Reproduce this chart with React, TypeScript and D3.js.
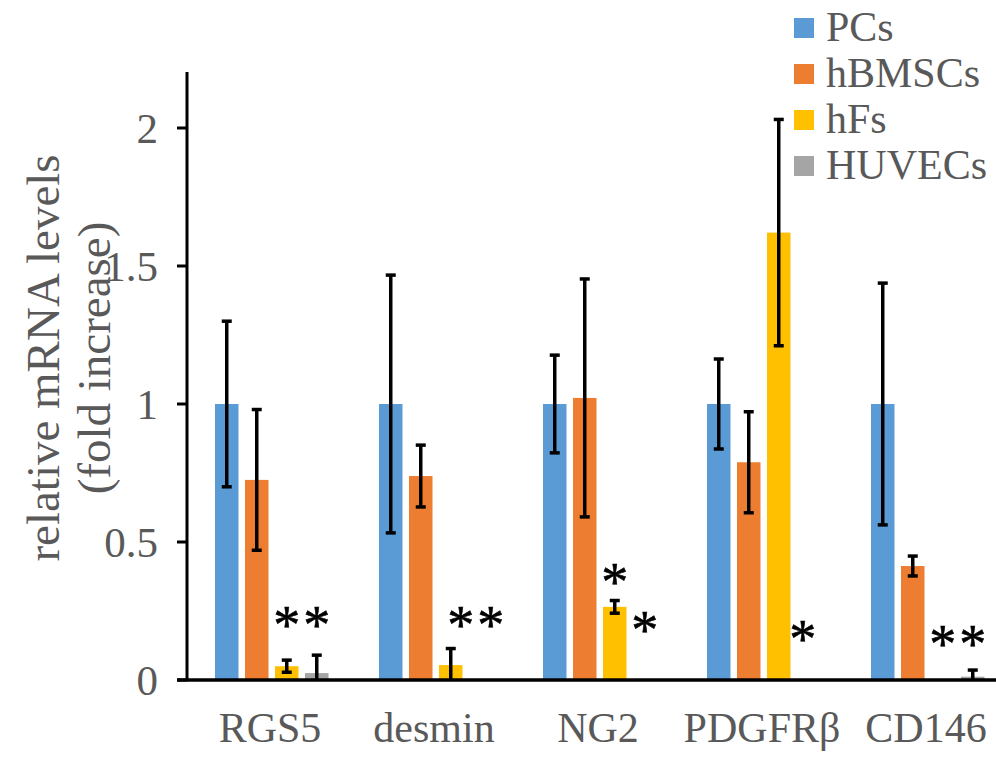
import React, { useEffect, useRef } from "react";
import * as d3 from "d3";

const categories = ["RGS5", "desmin", "NG2", "PDGFRβ", "CD146"];
const seriesNames = ["PCs", "hBMSCs", "hFs", "HUVECs"];
const seriesColors = ["#5B9BD5", "#ED7D31", "#FFC000", "#A5A5A5"];

const pcsValues = [1, 1, 1, 1, 1];
const pcsErrors = [0.3, 0.467, 0.177, 0.163, 0.438];
const hbmscValues = [0.725, 0.739, 1.022, 0.789, 0.413];
const hbmscErrors = [0.255, 0.112, 0.431, 0.183, 0.036];
const hfValues = [0.05, 0.054, 0.265, 1.621, 0];
const hfErrors = [0.022, 0.06, 0.023, 0.41, 0];
const huvecValues = [0.025, 0, 0, 0, 0.012];
const huvecErrors = [0.065, 0, 0, 0, 0.024];

const yTicks = [0, 0.5, 1, 1.5, 2];

// significance marks: category, series, height (data units), small x nudge
const stars = [
  { cat: "RGS5", series: "hFs", y: 0.225, dx: 0 },
  { cat: "RGS5", series: "HUVECs", y: 0.225, dx: 0 },
  { cat: "desmin", series: "hFs", y: 0.225, dx: 10 },
  { cat: "desmin", series: "HUVECs", y: 0.225, dx: 10 },
  { cat: "NG2", series: "hFs", y: 0.38, dx: 0 },
  { cat: "NG2", series: "HUVECs", y: 0.207, dx: 0 },
  { cat: "PDGFRβ", series: "HUVECs", y: 0.174, dx: -6 },
  { cat: "CD146", series: "hFs", y: 0.156, dx: 0 },
  { cat: "CD146", series: "HUVECs", y: 0.156, dx: 0 },
];

const allValues = [pcsValues, hbmscValues, hfValues, huvecValues];
const allErrors = [pcsErrors, hbmscErrors, hfErrors, huvecErrors];

const textGray = "#595959";
const serif = '"Liberation Serif", "Times New Roman", Times, "DejaVu Serif", serif';

const drawChart = (container: SVGSVGElement | null) => {
  if (!container) return;
  const svg = d3.select(container);
  svg.selectAll("*").remove();

  const axisX = 187, zeroY = 680, topY = 72;

  const y = d3.scaleLinear().domain([0, 2]).range([zeroY, 128]);
  const x0 = d3.scaleBand().domain(categories).range([189, 1009]);
  const x1 = d3.scaleBand().domain(seriesNames).range([26, 139.5]).paddingInner(0.217);

  const rows = categories.flatMap((cat, i) =>
    seriesNames.map((s, j) => ({ cat, s, j, v: allValues[j][i], e: allErrors[j][i] }))
  );

  // bars
  svg.append("g")
    .selectAll("rect")
    .data(rows.filter((d) => d.v > 0))
    .join("rect")
    .attr("x", (d) => x0(d.cat)! + x1(d.s)!)
    .attr("width", x1.bandwidth())
    .attr("y", (d) => y(d.v))
    .attr("height", (d) => y(0) - y(d.v))
    .attr("fill", (d) => seriesColors[d.j]);

  // error bars
  const eb = svg.append("g").attr("stroke", "#000").attr("stroke-width", 3.5);
  rows.filter((d) => d.e > 0).forEach((d) => {
    const cx = x0(d.cat)! + x1(d.s)! + x1.bandwidth() / 2;
    const lo = Math.max(0, d.v - d.e);
    const hi = d.v + d.e;
    eb.append("line").attr("x1", cx).attr("x2", cx).attr("y1", y(lo)).attr("y2", y(hi));
    eb.append("line").attr("x1", cx - 5).attr("x2", cx + 5).attr("y1", y(hi)).attr("y2", y(hi));
    if (d.v - d.e > 0) {
      eb.append("line").attr("x1", cx - 5).attr("x2", cx + 5).attr("y1", y(lo)).attr("y2", y(lo));
    }
  });

  // asterisks
  svg.append("g")
    .selectAll("text")
    .data(stars)
    .join("text")
    .attr("x", (d) => x0(d.cat)! + x1(d.series)! + x1.bandwidth() / 2 + d.dx)
    .attr("y", (d) => y(d.y) + 25)
    .attr("text-anchor", "middle")
    .style("font-family", serif)
    .style("font-size", "54px")
    .attr("fill", "#000")
    .attr("stroke", "#000")
    .attr("stroke-width", 0.6)
    .text("*");

  // axes
  svg.append("line")
    .attr("x1", axisX).attr("x2", axisX).attr("y1", topY).attr("y2", zeroY)
    .attr("stroke", "#000").attr("stroke-width", 3);
  svg.append("line")
    .attr("x1", 177).attr("x2", 996).attr("y1", zeroY).attr("y2", zeroY)
    .attr("stroke", "#000").attr("stroke-width", 3.5);

  const yt = svg.append("g");
  yTicks.forEach((t) => {
    yt.append("line")
      .attr("x1", 177).attr("x2", axisX).attr("y1", y(t)).attr("y2", y(t))
      .attr("stroke", "#000").attr("stroke-width", 3);
    yt.append("text")
      .attr("x", 158).attr("y", y(t))
      .attr("dy", "0.35em")
      .attr("text-anchor", "end")
      .style("font-family", serif)
      .style("font-size", "43px")
      .attr("fill", textGray)
      .text(String(t));
  });

  svg.append("g")
    .selectAll("text")
    .data(categories)
    .join("text")
    .attr("x", (d) => x0(d)! + x0.bandwidth() / 2 - 1)
    .attr("y", 742)
    .attr("text-anchor", "middle")
    .style("font-family", serif)
    .style("font-size", "42px")
    .attr("fill", textGray)
    .text((d) => d);

  // y axis title
  const titleLines = ["relative mRNA levels", "(fold increase)"];
  titleLines.forEach((line, i) => {
    svg.append("text")
      .attr("transform", `translate(${43 + i * 51},358) rotate(-90)`)
      .attr("text-anchor", "middle")
      .attr("dy", "0.35em")
      .style("font-family", serif)
      .style("font-size", "47px")
      .attr("fill", textGray)
      .text(line);
  });

  // legend
  const legend = svg.append("g");
  seriesNames.forEach((s, i) => {
    const cy = 28 + i * 46;
    legend.append("rect")
      .attr("x", 794).attr("y", cy - 10).attr("width", 20).attr("height", 20)
      .attr("fill", seriesColors[i]);
    legend.append("text")
      .attr("x", 826).attr("y", cy + 13)
      .style("font-family", serif)
      .style("font-size", "42px")
      .attr("fill", textGray)
      .text(s);
  });
};

export default function App() {
  const ref = useRef<SVGSVGElement | null>(null);

  useEffect(() => {
    drawChart(ref.current);
  }, []);

  return (
    <svg
      ref={ref}
      width={996}
      height={760}
      style={{ position: "absolute", left: 0, top: 0, background: "#fff" }}
    />
  );
}
